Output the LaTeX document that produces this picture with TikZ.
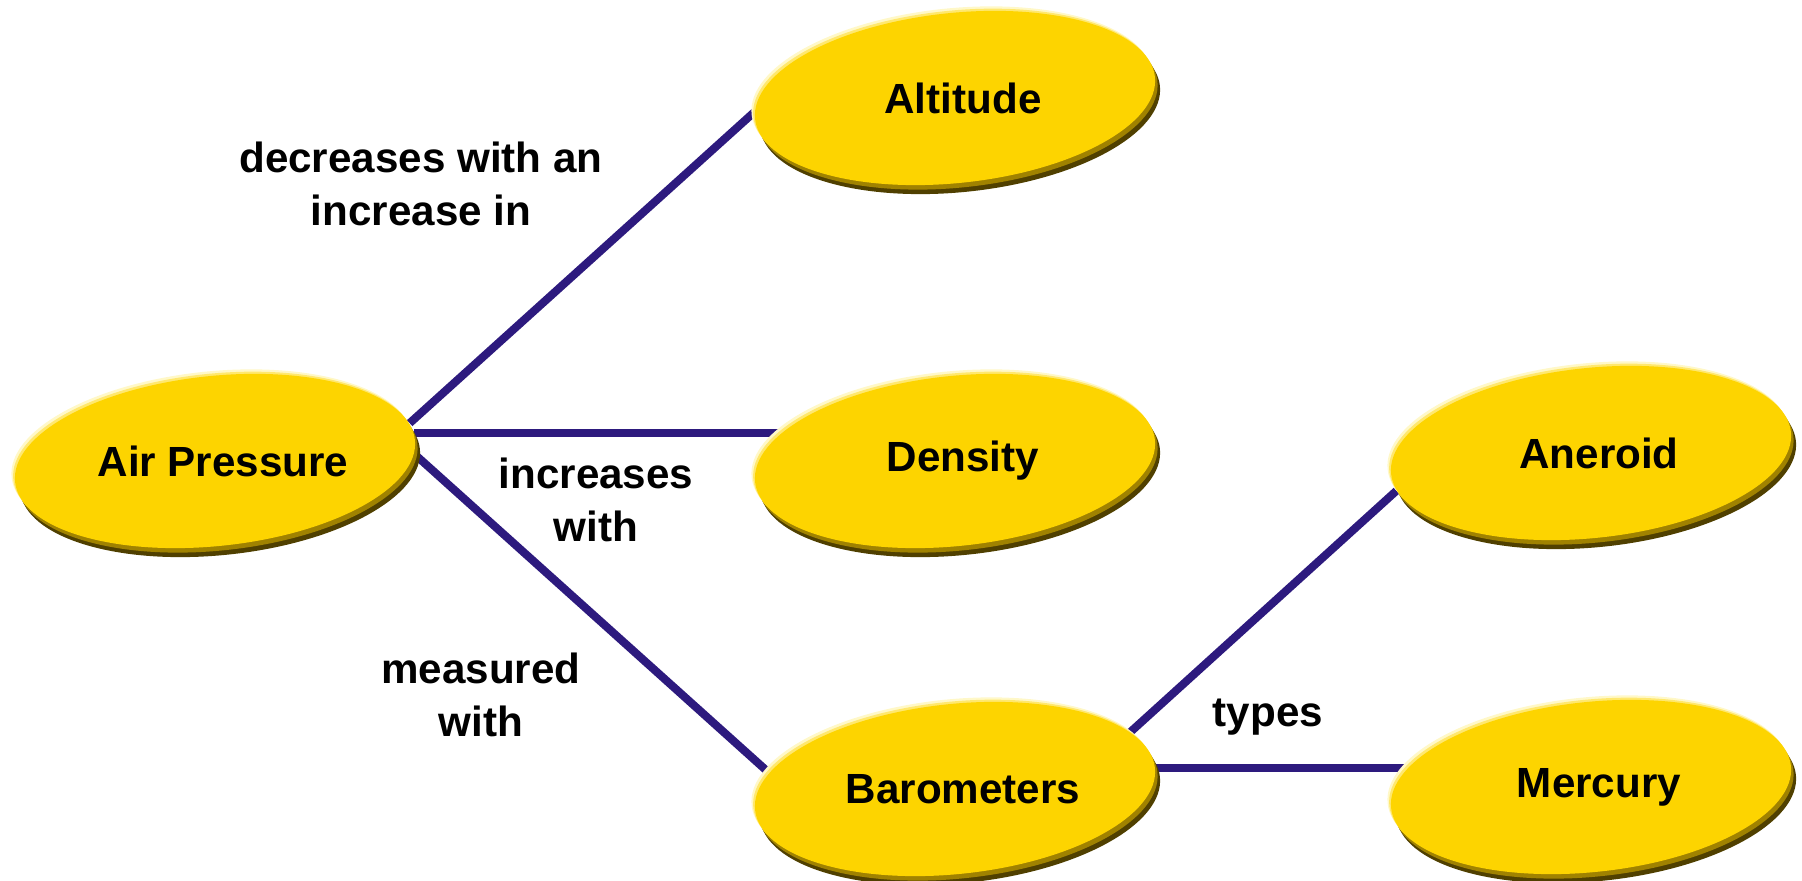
\documentclass[tikz,border=0pt]{standalone}
\usepackage{fontspec}
\setmainfont{Liberation Sans}
\usepackage{graphicx}
\usepackage{tikz}
\usetikzlibrary{shapes.geometric, shadows, backgrounds}

\definecolor{bubblegold}{RGB}{253,212,0}
\definecolor{bubbledark}{RGB}{80,64,0}
\definecolor{bubblemid}{RGB}{160,130,0}
\definecolor{bubblelight}{RGB}{255,248,200}
\definecolor{bubblesoft}{RGB}{255,232,110}
\definecolor{linkblue}{RGB}{45,26,126}

% upright text inside a tilted bubble
\newcommand{\bubbletext}[1]{\rotatebox{-6}{\hspace*{0.16cm}#1}}

\tikzset{
  bubble/.style={ellipse, fill=bubblegold, minimum width=4.02cm, minimum height=1.70cm,
    inner sep=0pt, rotate=6, font=\fontsize{12}{15}\selectfont\bfseries,
    general shadow={fill=bubbledark, shadow xshift=0.05cm, shadow yshift=-0.09cm},
    general shadow={fill=bubblemid, shadow xshift=0.025cm, shadow yshift=-0.045cm},
    general shadow={fill=bubblelight, shadow xshift=-0.035cm, shadow yshift=0.045cm},
    general shadow={fill=bubblesoft, shadow xshift=-0.018cm, shadow yshift=0.022cm}},
  link/.style={draw=linkblue, line width=2.3pt},
  tag/.style={font=\fontsize{12}{15}\selectfont\bfseries, align=center}
}

\begin{document}
\begin{tikzpicture}
  % Fix the page size
  \useasboundingbox (0,0) rectangle (18.02,8.81);
  % The concepts
  \node[bubble] (ap) at (2.15,4.20) {\bubbletext{Air Pressure}};
  \node[bubble] (alt) at (9.55,7.83) {\bubbletext{Altitude}};
  \node[bubble] (den) at (9.55,4.20) {\bubbletext{Density}};
  \node[bubble] (bar) at (9.55,0.92) {\bubbletext{Barometers}};
  \node[bubble] (ane) at (15.91,4.28) {\bubbletext{Aneroid}};
  \node[bubble] (mer) at (15.91,0.94) {\bubbletext{Mercury}};
  % The links, behind the concepts
  \begin{pgfonlayer}{background}
    \draw[link] (ap.5) -- (alt.178);
    \draw[link] (ap.2) -- (ap.2 -| den.center);
    \draw[link] (ap.-4) -- (bar.169);
    \draw[link] (bar.12) -- (ane.185);
    \draw[link] (bar.east) -- (bar.east -| mer.center);
  \end{pgfonlayer}
  % Link words
  \node[tag] (decr) at (4.21,6.97) {decreases with an\\increase in};
  \node[tag] (incr) at (5.96,3.81) {increases\\with};
  \node[tag] (meas) at (4.81,1.86) {measured\\with};
  \node[tag] (typ) at (12.68,1.64) {types};
\end{tikzpicture}
\end{document}
